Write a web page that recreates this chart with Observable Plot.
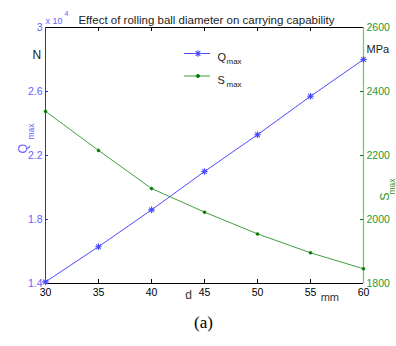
<!DOCTYPE html>
<html><head><meta charset="utf-8">
<script src="https://cdn.jsdelivr.net/npm/d3@7"></script>
<script src="https://cdn.jsdelivr.net/npm/@observablehq/plot@0.6"></script>
<style>body{margin:0;background:#fff;font-family:"Liberation Sans",Arial,sans-serif;}</style>
</head><body><div id="chart"></div>
<script>
// Data
const diameters = [30, 35, 40, 45, 50, 55, 60];          // d, mm
const qmax = [1.41, 1.63, 1.86, 2.10, 2.33, 2.57, 2.80]; // Q_max, x10^4 N
const smax = [2338, 2216, 2097, 2023, 1955, 1896, 1846]; // S_max, MPa
const xTicks = [30, 35, 40, 45, 50, 55, 60];
const qTicks = [1.4, 1.8, 2.2, 2.6, 3];
const sTicks = [1800, 2000, 2200, 2400, 2600];

const W = 396, H = 346, ML = 45, MR = 33, MT = 27, MB = 63;
const PW = W - ML - MR, PH = H - MT - MB;
const qDomain = [1.4, 3.0], sDomain = [1800, 2600];
// map S onto the shared y scale (right axis)
const sToY = s => qDomain[0] + (s - sDomain[0]) / (sDomain[1] - sDomain[0]) * (qDomain[1] - qDomain[0]);
const yToS = y => Math.round(sDomain[0] + (y - qDomain[0]) / (qDomain[1] - qDomain[0]) * (sDomain[1] - sDomain[0]));

const BLUE = "#4b4bff", BLUE_AXIS = "#2828e6", BLUE_TXT = "#5f5fff";
const GREEN = "#3f9f3f", GREEN_DOT = "#007800", GREEN_AXIS = "#7cc47c", GREEN_TXT = "#2f962f";
const FONT = "Liberation Sans, Arial, sans-serif";

// MATLAB-style 8-arm asterisk
const star8 = {
  draw(context, size) {
    const r = Math.sqrt(size / Math.PI), c = r * Math.SQRT1_2;
    context.moveTo(-r, 0); context.lineTo(r, 0);
    context.moveTo(0, -r); context.lineTo(0, r);
    context.moveTo(-c, -c); context.lineTo(c, c);
    context.moveTo(-c, c); context.lineTo(c, -c);
  }
};

const qData = diameters.map((d, i) => ({d, v: qmax[i]}));
const sData = diameters.map((d, i) => ({d, v: sToY(smax[i])}));

function legend(index, scales, values, dims) {
  const g = d3.create("svg:g");
  const rows = [
    {y: 53.5, stroke: BLUE, sym: star8, size: Math.PI * 3.3 * 3.3, fill: "none", sc: BLUE},
    {y: 76, stroke: GREEN, sym: d3.symbolCircle, size: 6, fill: GREEN_DOT, sc: GREEN_DOT}
  ];
  for (const r of rows) {
    g.append("line").attr("x1", 184).attr("x2", 210).attr("y1", r.y).attr("y2", r.y)
      .attr("stroke", r.stroke).attr("stroke-width", 1);
    g.append("path").attr("d", d3.symbol(r.sym, r.size)()).attr("transform", `translate(198,${r.y})`)
      .attr("fill", r.fill).attr("stroke", r.sc).attr("stroke-width", 1.1);
  }
  return g.node();
}

const txt = (s, o) => Plot.text([s], {text: d => d, fontFamily: FONT, ...o});

const chart = Plot.plot({
  width: W, height: H,
  marginLeft: ML, marginRight: MR, marginTop: MT, marginBottom: MB,
  style: {fontFamily: FONT, background: "#fff", overflow: "visible"},
  x: {domain: [30, 60]},
  y: {domain: qDomain},
  marks: [
    // frame lines
    Plot.ruleY([qDomain[0]], {stroke: "#000"}),
    Plot.ruleY([qDomain[1]], {stroke: "#000"}),
    Plot.ruleX([30], {stroke: BLUE_AXIS}),
    Plot.ruleX([60], {stroke: GREEN_AXIS, strokeWidth: 1.3}),
    // inward ticks
    Plot.tickX(xTicks.slice(1, -1), {x: d => d, insetTop: PH - 4, stroke: "#000"}),
    Plot.tickX(xTicks.slice(1, -1), {x: d => d, insetBottom: PH - 4, stroke: "#000"}),
    Plot.tickY(qTicks.slice(1, -1), {y: d => d, insetRight: PW - 3, stroke: BLUE_AXIS}),
    Plot.tickY(sTicks.slice(1, -1).map(sToY), {y: d => d, insetLeft: PW - 3, stroke: GREEN_DOT}),
    // axes labels
    Plot.axisX({ticks: xTicks, tickSize: 0, tickPadding: 5, label: null, fontSize: 10.5, color: "#000"}),
    Plot.axisY({ticks: qTicks, tickSize: 0, tickPadding: 3, label: null, fontSize: 10.5, color: BLUE_TXT, tickFormat: d => String(d)}),
    Plot.axisY(sTicks.map(sToY), {anchor: "right", tickSize: 0, tickPadding: 3, label: null, fontSize: 10.5, color: GREEN_TXT, tickFormat: d => String(yToS(d))}),
    // series
    Plot.line(qData, {x: "d", y: "v", stroke: BLUE, strokeWidth: 1}),
    Plot.dot(qData, {x: "d", y: "v", symbol: star8, r: 3.3, stroke: BLUE, strokeWidth: 1.1}),
    Plot.line(sData, {x: "d", y: "v", stroke: GREEN, strokeWidth: 1}),
    Plot.dot(sData, {x: "d", y: "v", r: 1.5, fill: GREEN_DOT, stroke: GREEN_DOT, strokeWidth: 0.5}),
    legend,
    // texts
    txt("Effect of rolling ball diameter on carrying capability", {frameAnchor: "top", dx: 2, dy: -12, fontSize: 11.5, fill: "#222"}),
    txt("x 10", {frameAnchor: "top-left", textAnchor: "start", dx: 0, dy: -10, fontSize: 9, fill: BLUE_TXT}),
    txt("4", {frameAnchor: "top-left", textAnchor: "start", dx: 19, dy: -16, fontSize: 7, fill: BLUE_TXT}),
    txt("N", {frameAnchor: "top-left", dx: -13, dy: 23, fontSize: 12, fill: "#222"}),
    txt("MPa", {frameAnchor: "top-right", textAnchor: "start", dx: 3, dy: 18, fontSize: 11, fill: "#222"}),
    txt("Q", {frameAnchor: "left", rotate: -90, dx: -23, dy: -2, fontSize: 12.5, fill: BLUE_TXT}),
    txt("max", {frameAnchor: "left", rotate: -90, dx: -14.5, dy: -16, fontSize: 8.5, fill: BLUE_TXT}),
    txt("S", {frameAnchor: "right", rotate: -90, dx: 21, dy: 37, fontSize: 12.5, fill: GREEN_TXT}),
    txt("max", {frameAnchor: "right", rotate: -90, dx: 29, dy: 23, fontSize: 8.5, fill: GREEN_TXT}),
    txt("Q", {frameAnchor: "top-left", textAnchor: "start", dx: 172, dy: 26, fontSize: 11, fill: "#222"}),
    txt("max", {frameAnchor: "top-left", textAnchor: "start", dx: 181, dy: 31, fontSize: 8, fill: "#222"}),
    txt("S", {frameAnchor: "top-left", textAnchor: "start", dx: 172, dy: 49, fontSize: 11, fill: "#222"}),
    txt("max", {frameAnchor: "top-left", textAnchor: "start", dx: 181, dy: 54, fontSize: 8, fill: "#222"}),
    txt("d", {frameAnchor: "bottom", dx: -16, dy: 15, fontSize: 12, fill: "#333"}),
    txt("mm", {frameAnchor: "bottom-right", dx: -24.5, dy: 17, fontSize: 11, fill: "#333"}),
    txt("(a)", {frameAnchor: "bottom", dx: -1, dy: 44, fontSize: 17, fill: "#000", fontFamily: "Liberation Serif, Times New Roman, serif"})
  ]
});
document.getElementById("chart").append(chart);
</script>
</body></html>
